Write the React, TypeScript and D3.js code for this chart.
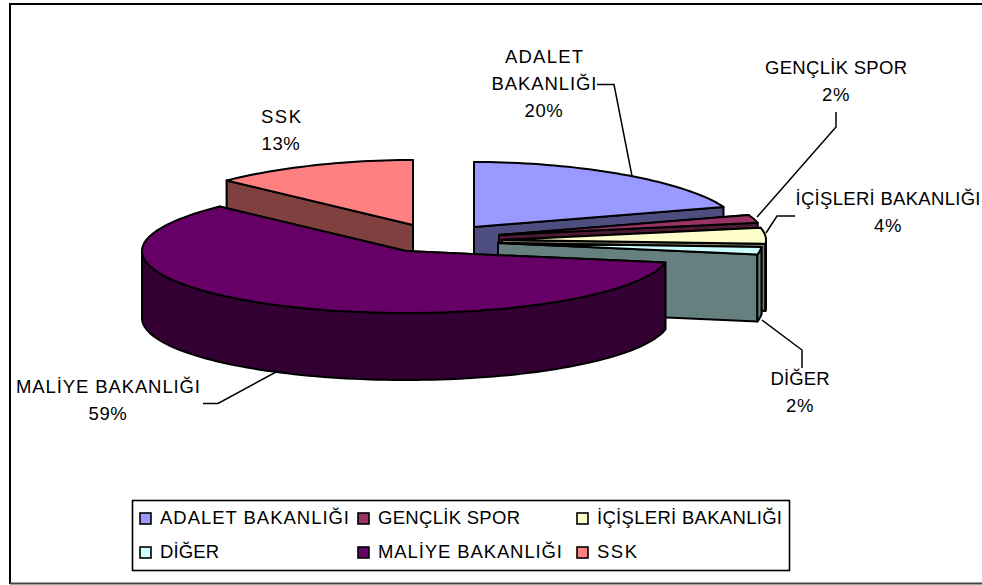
import React from "react";
import * as d3 from "d3";

const categories = ["ADALET BAKANLIĞI", "GENÇLİK SPOR", "İÇİŞLERİ BAKANLIĞI", "DİĞER", "MALİYE BAKANLIĞI", "SSK"];
const shares = [20, 2, 4, 2, 59, 13];
const topColors = ["#9999FF", "#993366", "#FFFFCC", "#CCFFFF", "#660066", "#FF8080"];
const sideColors = ["#4D4D80", "#4D1A33", "#808066", "#668080", "#330033", "#804040"];

// layout of the exploded slices
const centers: [number, number][] = [[474, 227], [499, 235], [502, 240], [498, 243], [406, 251], [413, 225]];
const RX = 264, RY_FRONT = 62, RY_BACK = 65, DEPTH = 67, BACK_SHRINK = 0.067;
const paintOrder = [5, 0, 1, 2, 3, 4];

const labels = [
  { lines: ["ADALET", "BAKANLIĞI", "20%"], x: 544, y: 63 },
  { lines: ["GENÇLİK SPOR", "2%"], x: 836, y: 74 },
  { lines: ["İÇİŞLERİ BAKANLIĞI", "4%"], x: 888, y: 205 },
  { lines: ["DİĞER", "2%"], x: 800, y: 385 },
  { lines: ["MALİYE BAKANLIĞI", "59%"], x: 108, y: 393 },
  { lines: ["SSK", "13%"], x: 281, y: 123 },
];
// rendered text widths, measured on the reference
const textWidths: Record<string, number> = {
  "ADALET": 78, "BAKANLIĞI": 105, "ADALET BAKANLIĞI": 189, "GENÇLİK SPOR": 142,
  "İÇİŞLERİ BAKANLIĞI": 185, "DİĞER": 59, "MALİYE BAKANLIĞI": 184, "SSK": 40,
};
const leaders: [number, number][][] = [
  [[597, 84.5], [614, 84.5], [632, 176]],
  [[836, 112], [836, 127], [757, 217]],
  [[795, 216], [777, 216], [766, 233]],
  [[802, 368], [802, 350], [762, 320]],
  [[203, 403.5], [218, 403.5], [276, 372]],
];
const legendCells: [number, number][] = [[140, 518.5], [358, 518.5], [577, 518.5], [140, 552.5], [358, 552.5], [577, 552.5]];

const FONT = "'Liberation Sans', Arial, sans-serif";
const FS = 18.5;

export default function App() {
  const arcs = d3.pie<number>().sort(null)(shares);
  const lineGen = d3.line<[number, number]>();
  const pt = (i: number, a: number, dy = 0): [number, number] => {
    const c = Math.cos(a);
    const back = c > 0;
    const rx = RX * (1 - (back ? BACK_SHRINK * c * c : 0));
    return [
      centers[i][0] + rx * Math.sin(a),
      centers[i][1] - (back ? RY_BACK : RY_FRONT) * c + dy,
    ];
  };
  const arcPts = (i: number, a0: number, a1: number, dy = 0) => {
    const n = Math.max(2, Math.ceil((a1 - a0) / 0.03));
    return d3.range(n + 1).map((k) => pt(i, a0 + ((a1 - a0) * k) / n, dy));
  };
  const stroke = { stroke: "#000", strokeWidth: 2, strokeLinejoin: "round" as const };
  const fit = (s: string) =>
    textWidths[s] ? { textLength: textWidths[s], lengthAdjust: "spacing" as const } : { letterSpacing: 0.6 };

  return (
    <svg width={982} height={585} style={{ position: "absolute", left: 0, top: 0, background: "#fff" }} fontFamily={FONT}>
      <path d="M10,584V4H982" fill="none" stroke="#000" strokeWidth={2} />
      <path d="M10,583.5H982" fill="none" stroke="#444" strokeWidth={2} />
      {paintOrder.map((i) => {
        const { startAngle: a0, endAngle: a1 } = arcs[i];
        const c = centers[i];
        const b0 = Math.max(a0, Math.PI / 2), b1 = Math.min(a1, (3 * Math.PI) / 2);
        const top = [c, ...arcPts(i, a0, a1)] as [number, number][];
        const wall = (a: number) => {
          const p = pt(i, a);
          return [c, p, [p[0], p[1] + DEPTH], [c[0], c[1] + DEPTH]] as [number, number][];
        };
        return (
          <g key={i}>
            <path d={lineGen(wall(a0)) + "Z"} fill={sideColors[i]} {...stroke} />
            <path d={lineGen(wall(a1)) + "Z"} fill={sideColors[i]} {...stroke} />
            {b1 > b0 && (
              <path
                d={lineGen([...arcPts(i, b0, b1), ...arcPts(i, b0, b1, DEPTH).reverse()]) + "Z"}
                fill={sideColors[i]}
                {...stroke}
              />
            )}
            <path d={lineGen(top) + "Z"} fill={topColors[i]} {...stroke} />
          </g>
        );
      })}
      {leaders.map((l, i) => (
        <path key={i} d={lineGen(l)!} fill="none" stroke="#000" strokeWidth={1.5} />
      ))}
      {labels.map((l, i) => (
        <g key={i}>
          {l.lines.map((s, k) => (
            <text key={k} x={l.x} y={l.y + k * 27} textAnchor="middle" fontSize={FS} fill="#000" {...fit(s)}>{s}</text>
          ))}
        </g>
      ))}
      <rect x={132.5} y={500.5} width={657} height={70} fill="#fff" stroke="#000" strokeWidth={1.6} />
      {categories.map((name, i) => (
        <g key={name}>
          <rect x={legendCells[i][0]} y={legendCells[i][1] - 5.5} width={11} height={11} fill={topColors[i]} stroke="#000" strokeWidth={1.6} />
          <text x={legendCells[i][0] + 20} y={legendCells[i][1] + 5} fontSize={FS} {...fit(name)}>{name}</text>
        </g>
      ))}
    </svg>
  );
}
